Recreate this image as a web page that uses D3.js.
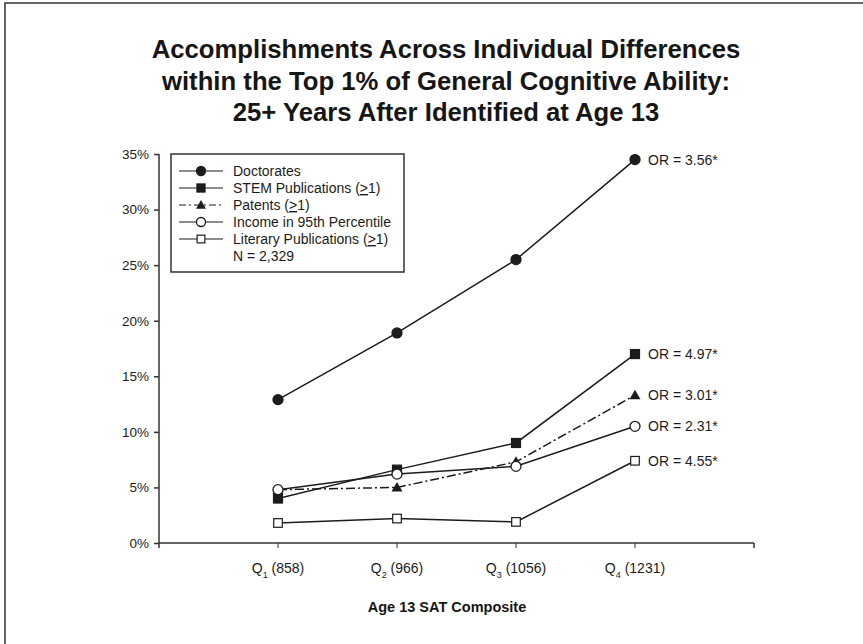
<!DOCTYPE html>
<html>
<head>
<meta charset="utf-8">
<script src="https://cdn.jsdelivr.net/npm/d3@7/dist/d3.min.js"></script>
<style>
  body { margin: 0; background: #fff; }
  svg { display: block; font-family: "Liberation Sans", Arial, sans-serif; }
</style>
</head>
<body>
<svg id="chart" width="863" height="644"></svg>
<script>
// ---- data ----
var quartiles = ["1", "2", "3", "4"];
var satMeans = ["858", "966", "1056", "1231"];
// label text up to the underlined ">" part
var seriesNames = ["Doctorates", "STEM Publications (", "Patents (", "Income in 95th Percentile", "Literary Publications ("];
var seriesGe1 = [false, true, true, false, true];
var doctorates = [12.9, 18.9, 25.5, 34.5];
var stemPubs = [4.0, 6.6, 9.0, 17.0];
var patents = [4.8, 5.0, 7.3, 13.3];
var income95 = [4.8, 6.2, 6.9, 10.5];
var literaryPubs = [1.8, 2.2, 1.9, 7.4];
var oddsRatios = ["3.56*", "4.97*", "3.01*", "2.31*", "4.55*"];
var yTicks = [0, 5, 10, 15, 20, 25, 30, 35];
var titleLines = ["Accomplishments Across Individual Differences",
                  "within the Top 1% of General Cognitive Ability:",
                  "25+ Years After Identified at Age 13"];

var allSeries = [doctorates, stemPubs, patents, income95, literaryPubs];
var markers = ["dotFill", "squareFill", "triFill", "dotOpen", "squareOpen"];

var svg = d3.select("#chart");
var ink = "#1c1c1c";

// outer frame
svg.append("rect")
    .attr("x", 5).attr("y", 3)
    .attr("width", 900).attr("height", 700)
    .attr("fill", "none").attr("stroke", "#333").attr("stroke-width", 1.5);

// title
svg.append("g").selectAll("text")
    .data(titleLines).enter()
    .append("text")
    .attr("x", 446)
    .attr("y", function (d, i) { return 58 + i * 31.5; })
    .attr("text-anchor", "middle")
    .attr("font-size", "25.7px")
    .attr("font-weight", "bold")
    .attr("fill", "#161616")
    .text(function (d) { return d; });

// scales
var x = d3.scalePoint().domain(quartiles).range([278, 635]);
var y = d3.scaleLinear().domain([0, 35]).range([543, 154]);

// y axis
var yAxis = svg.append("g").attr("transform", "translate(159,0)")
    .call(d3.axisLeft(y).tickValues(yTicks).tickSize(5).tickSizeOuter(0)
        .tickFormat(function (d) { return d + "%"; }));
yAxis.select(".domain").remove();
yAxis.append("line").attr("x1", 0).attr("x2", 0).attr("y1", 154).attr("y2", 548)
    .attr("stroke", "#333").attr("stroke-width", 1.5);
yAxis.selectAll(".tick line").attr("stroke", "#333").attr("stroke-width", 1.5);
yAxis.selectAll(".tick text")
    .attr("x", -10)
    .attr("font-size", "13.5px").attr("fill", ink)
    .attr("font-family", "Liberation Sans, Arial, sans-serif");

// x axis
var xAxisG = svg.append("g").attr("transform", "translate(0,543)");
xAxisG.append("line").attr("x1", 159).attr("x2", 754).attr("y1", 0).attr("y2", 0)
    .attr("stroke", "#333").attr("stroke-width", 1.5);
xAxisG.append("line").attr("x1", 754).attr("x2", 754).attr("y1", 0).attr("y2", 5)
    .attr("stroke", "#333").attr("stroke-width", 1.5);
xAxisG.selectAll("line.tk")
    .data(quartiles).enter()
    .append("line").attr("class", "tk")
    .attr("x1", function (d) { return x(d); })
    .attr("x2", function (d) { return x(d); })
    .attr("y1", 0).attr("y2", 5)
    .attr("stroke", "#333").attr("stroke-width", 1);
var tickLab = xAxisG.selectAll("text.tl")
    .data(quartiles).enter()
    .append("text").attr("class", "tl")
    .attr("x", function (d) { return x(d); })
    .attr("y", 30)
    .attr("text-anchor", "middle")
    .attr("font-size", "14px").attr("fill", ink);
tickLab.append("tspan").text("Q");
tickLab.append("tspan").attr("dy", 5).attr("font-size", "9px").text(function (d) { return d; });
tickLab.append("tspan").attr("dy", -5).text(function (d, i) { return " (" + satMeans[i] + ")"; });

svg.append("text")
    .attr("x", 447).attr("y", 612)
    .attr("text-anchor", "middle")
    .attr("font-size", "14.5px").attr("font-weight", "bold").attr("fill", "#161616")
    .text("Age 13 SAT Composite");

// marker drawing
function drawMarker(g, type, cx, cy, scale) {
    var s = scale || 1;
    if (type === "dotFill" || type === "dotOpen") {
        g.append("circle").attr("cx", cx).attr("cy", cy).attr("r", 5 * s)
            .attr("fill", type === "dotFill" ? ink : "#fff")
            .attr("stroke", ink).attr("stroke-width", 1.3);
    } else if (type === "squareFill" || type === "squareOpen") {
        var h = (type === "squareFill" ? 4.5 : 4.3) * s;
        g.append("rect").attr("x", cx - h).attr("y", cy - h)
            .attr("width", 2 * h).attr("height", 2 * h)
            .attr("fill", type === "squareFill" ? ink : "#fff")
            .attr("stroke", ink).attr("stroke-width", 1.2);
    } else if (type === "triFill") {
        var t = 5.5 * s;
        g.append("path")
            .attr("d", "M" + cx + "," + (cy - t) + "L" + (cx + t) + "," + (cy + t * 0.75) +
                "L" + (cx - t) + "," + (cy + t * 0.75) + "Z")
            .attr("fill", ink);
    }
}

// lines + markers
var line = d3.line()
    .x(function (d, i) { return x(quartiles[i]); })
    .y(function (d) { return y(d); });

allSeries.forEach(function (vals, k) {
    var g = svg.append("g");
    g.append("path")
        .datum(vals)
        .attr("d", line)
        .attr("fill", "none")
        .attr("stroke", ink)
        .attr("stroke-width", 1.5)
        .attr("stroke-dasharray", k === 2 ? "9,3,2,3" : null);
    vals.forEach(function (v, i) {
        drawMarker(g, markers[k], x(quartiles[i]), y(v));
    });
    // odds ratio label
    g.append("text")
        .attr("x", x(quartiles[3]) + 13)
        .attr("y", y(vals[3]) + 5)
        .attr("font-size", "14px").attr("fill", ink)
        .text("OR = " + oddsRatios[k]);
});

// legend
var leg = svg.append("g");
leg.append("rect")
    .attr("x", 171).attr("y", 154).attr("width", 233).attr("height", 118)
    .attr("fill", "#fff").attr("stroke", "#333").attr("stroke-width", 1.5);
seriesNames.forEach(function (name, k) {
    var ly = 171 + k * 17;
    leg.append("line")
        .attr("x1", 179).attr("x2", 223).attr("y1", ly).attr("y2", ly)
        .attr("stroke", ink).attr("stroke-width", 1.2)
        .attr("stroke-dasharray", k === 2 ? "7,3,2,3" : null);
    drawMarker(leg, markers[k], 201, ly, 0.9);
    var t = leg.append("text")
        .attr("x", 233).attr("y", ly + 5)
        .attr("font-size", "14px").attr("fill", ink);
    t.append("tspan").text(name);
    if (seriesGe1[k]) {
        t.append("tspan").attr("text-decoration", "underline").text(">");
        t.append("tspan").text("1)");
    }
});
leg.append("text")
    .attr("x", 233).attr("y", 171 + 5 * 17 + 5)
    .attr("font-size", "14px").attr("fill", ink)
    .text("N = 2,329");
</script>
</body>
</html>
